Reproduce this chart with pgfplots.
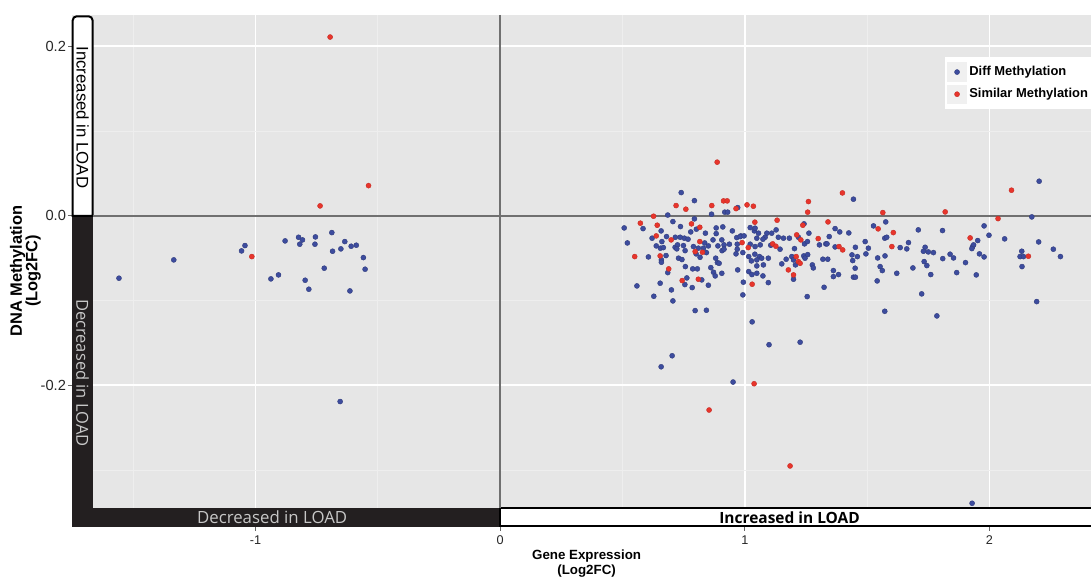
\documentclass[border=0pt]{standalone}
\usepackage{pgfplots}
\pgfplotsset{compat=1.18}
\usepackage{fontspec}
\setmainfont{Liberation Sans}
\newfontfamily\osans{Open Sans}
\definecolor{bgray}{HTML}{E6E6E6}
\definecolor{mgray}{HTML}{EEEEEE}
\definecolor{dblue}{HTML}{3D4C9E}
\definecolor{dred}{HTML}{E8352C}
\definecolor{stripblk}{HTML}{231F20}
\definecolor{zline}{HTML}{707070}
\begin{document}
\begin{tikzpicture}
\begin{axis}[
  scale only axis, width=764.25pt, height=384pt,
  xmin=-1.75, xmax=2.415, ymin=-0.367, ymax=0.237,
  clip=false,
  axis background/.style={fill=bgray},
  axis line style={draw=none},
  xtick={-1,0,1,2}, xticklabels={-1,0,1,2},
  ytick={-0.2,0,0.2}, yticklabels={-0.2,0.0,0.2},
  minor xtick={-1.5,-0.5,0.5,1.5}, minor ytick={-0.3,-0.1,0.1},
  grid=both,
  major grid style={white, line width=1.4pt},
  minor grid style={mgray, line width=0.8pt},
  tick align=outside, xtick pos=bottom, ytick pos=left,
  major tick length=3pt, minor tick length=0pt,
  tick style={black!60, line width=0.6pt},
  /pgf/number format/assume math mode=true,
  xticklabel style={font=\fontsize{9.5}{11}\selectfont, text=black!85},
  yticklabel style={font=\fontsize{11}{12}\selectfont, text=black!85, xshift=2pt},
  xlabel={Gene Expression\\(Log2FC)},
  ylabel={DNA Methylation\\(Log2FC)},
  every axis x label/.style={at={(axis description cs:0.505,-0.0435)}, anchor=north, align=center, inner sep=0pt, font=\bfseries\fontsize{10}{11.2}\selectfont},
  every axis y label/.style={at={(axis description cs:-0.0304,0.5)}, rotate=90, anchor=south, align=center, inner sep=0pt, font=\bfseries\fontsize{12.3}{11.5}\selectfont},
  legend style={at={(axis cs:1.819,0.1876)}, anchor=north west, fill=white, draw=none,
    font=\bfseries\fontsize{9.7}{11}\selectfont, row sep=2.2pt, inner xsep=1.5pt, inner ysep=4pt},
  legend cell align=left,
  legend image code/.code={\fill[black!6] (0pt,-7pt) rectangle (14pt,7pt);
     \draw[only marks,#1] plot coordinates {(7pt,0pt)};},
]
% strips
\fill[stripblk] (axis cs:-1.75,0) rectangle (axis cs:-1.663,-0.367);
\fill[stripblk] (axis cs:-1.75,-0.367) rectangle (axis cs:0,-0.3445);
\draw[fill=white, line width=1.5pt] (axis cs:-1.747,0) [rounded corners=3pt] -- (axis cs:-1.747,0.2355) -- (axis cs:-1.666,0.2355) [sharp corners] -- (axis cs:-1.666,0) -- cycle;
\draw[fill=white, line width=1.2pt] (axis cs:0,-0.3447) rectangle (axis cs:2.42,-0.3655);
\node[rotate=-90, font=\fontsize{12.6}{13}\selectfont] at (axis cs:-1.7065,0.1162) {Increased in LOAD};
\node[rotate=-90, text=black!22, font=\osans\fontsize{12.4}{13}\selectfont] at (axis cs:-1.7065,-0.1852) {Decreased in LOAD};
\node[text=black!22, font=\osans\fontsize{12.6}{13}\selectfont] at (axis cs:-0.932,-0.3557) {Decreased in LOAD};
\node[font=\osans\bfseries\fontsize{11.6}{12}\selectfont] at (axis cs:1.183,-0.3557) {Increased in LOAD};
% zero lines
\draw[zline, line width=1.5pt] (axis cs:-1.663,0) -- (axis cs:2.415,0);
\draw[zline, line width=1.5pt] (axis cs:0,0.237) -- (axis cs:0,-0.3445);

\addplot[only marks, mark=*, mark size=1.9pt, mark options={draw=dblue!80!black, fill=dblue, line width=0.3pt}] coordinates {
(-0.688,-0.0197)(-0.879,-0.0295)(-0.824,-0.0252)(-0.808,-0.0283)(-0.819,-0.0334)
(-0.755,-0.0248)(-0.757,-0.0334)(-0.635,-0.0303)(-0.651,-0.0389)(-0.685,-0.0417)
(-0.609,-0.0358)(-0.588,-0.0346)(-0.559,-0.0492)(-0.552,-0.0629)(-0.719,-0.0617)
(-0.797,-0.0759)(-0.782,-0.0865)(-0.614,-0.0885)(-0.937,-0.0743)(-0.906,-0.0696)
(-1.043,-0.0350)(-1.057,-0.0413)(-1.334,-0.0519)(-1.558,-0.0735)(-0.654,-0.219)
(0.740,0.0275)(0.794,0.018)(0.918,0.0044)(0.930,0.0044)(0.864,0.002)(0.971,0.0098)
(0.685,0.001)(0.794,-0.0035)(0.706,-0.0067)(0.507,-0.0142)(0.584,-0.015)(0.737,-0.0126)
(0.658,-0.0177)(0.779,-0.0189)(0.802,-0.0157)(0.839,-0.0204)(0.883,-0.0142)(0.910,-0.013)
(0.949,-0.0177)(0.883,-0.0209)(0.984,-0.0236)(1.022,-0.0138)(1.039,-0.0177)(0.621,-0.0263)
(0.680,-0.0244)(0.716,-0.0252)(0.736,-0.0252)(0.753,-0.0263)(0.768,-0.0275)(0.661,-0.0303)
(0.836,-0.0319)(0.870,-0.0283)(0.906,-0.0283)(0.967,-0.0256)(0.981,-0.0244)(0.997,-0.0236)
(0.638,-0.0354)(0.655,-0.0381)(0.667,-0.0374)(0.715,-0.037)(0.725,-0.0342)(0.749,-0.035)
(0.790,-0.0362)(0.810,-0.0381)(0.831,-0.0381)(0.851,-0.0354)(0.890,-0.0354)(0.915,-0.0342)
(0.937,-0.0334)(0.969,-0.0334)(1.022,-0.0334)(0.520,-0.0319)(0.606,-0.0484)(0.678,-0.0468)
(0.659,-0.0519)(0.659,-0.0547)(0.722,-0.0389)(0.756,-0.041)(0.729,-0.0499)(0.743,-0.0515)
(0.801,-0.0448)(0.817,-0.0488)(0.843,-0.0433)(0.881,-0.0499)(0.888,-0.0551)(0.895,-0.0559)
(0.907,-0.041)(0.915,-0.0393)(0.964,-0.0448)(0.969,-0.0393)(0.992,-0.0433)(1.016,-0.048)
(1.027,-0.0531)(1.041,-0.0452)(0.994,-0.0782)(0.992,-0.0932)(0.685,-0.0669)(0.757,-0.0598)
(0.787,-0.0625)(0.806,-0.0625)(0.861,-0.061)(0.872,-0.0665)(0.879,-0.0708)(0.906,-0.0677)
(0.971,-0.0637)(1.016,-0.0657)(1.029,-0.0692)(0.763,-0.0732)(0.824,-0.0755)(0.755,-0.081)
(0.785,-0.0846)(0.851,-0.0818)(0.654,-0.0794)(0.559,-0.0826)(0.700,-0.0873)(0.628,-0.0948)
(0.706,-0.1003)(0.797,-0.1117)(0.843,-0.1113)
(0.703,-0.165)(0.658,-0.178)(1.030,-0.125)(0.952,-0.196)(1.099,-0.152)(1.226,-0.149)(1.929,-0.339)
(1.444,0.0197)(1.576,-0.0071)(1.242,-0.0094)(1.369,-0.015)(1.425,-0.0201)(1.388,-0.0189)
(1.526,-0.0118)(1.572,-0.0263)(1.580,-0.0252)(1.709,-0.0165)(1.492,-0.0303)(1.505,-0.0381)
(1.669,-0.0315)(1.635,-0.0374)(1.662,-0.0389)(1.687,-0.0614)(1.621,-0.0677)(1.573,-0.0472)
(1.543,-0.0496)(1.495,-0.0448)(1.452,-0.037)(1.438,-0.046)(1.460,-0.048)(1.441,-0.0527)
(1.451,-0.0617)(1.444,-0.0723)(1.452,-0.0723)(1.553,-0.0598)(1.562,-0.0645)(1.541,-0.0767)
(1.572,-0.1125)(1.331,-0.033)(1.336,-0.033)(1.369,-0.0366)(1.345,-0.0244)(1.305,-0.0342)
(1.319,-0.0511)(1.339,-0.0511)(1.362,-0.0645)(1.383,-0.0692)(1.362,-0.0716)(1.324,-0.0842)
(1.255,-0.0952)(1.276,-0.0578)(1.280,-0.0614)(1.241,-0.0472)(1.257,-0.0457)(1.246,-0.0499)
(1.192,-0.048)(1.199,-0.0519)(1.207,-0.0578)(1.169,-0.0511)(1.199,-0.0747)(1.151,-0.0566)
(1.106,-0.0346)(1.144,-0.0393)(1.137,-0.0252)(1.158,-0.0263)(1.182,-0.0263)(1.110,-0.0204)
(1.128,-0.0165)(1.219,-0.0252)(1.244,-0.033)(1.256,-0.0303)(1.262,-0.0204)(1.203,-0.0386)
(1.090,-0.0204)(1.083,-0.0252)(1.074,-0.0275)(1.056,-0.0204)(1.049,-0.0263)(1.063,-0.0342)
(1.042,-0.0362)(1.042,-0.0145)(1.060,-0.048)(1.069,-0.0499)(1.049,-0.0519)(1.096,-0.0499)
(1.049,-0.059)(1.076,-0.0578)(1.049,-0.0677)(1.074,-0.0708)(1.096,-0.0787)
(2.203,0.0409)(2.173,-0.0012)(1.808,-0.0173)(1.978,-0.0118)(1.998,-0.0228)(1.952,-0.0291)
(2.062,-0.0271)(2.201,-0.0307)(2.261,-0.0393)(2.290,-0.048)(2.132,-0.0417)(2.125,-0.048)
(2.139,-0.048)(2.133,-0.0598)(2.193,-0.1011)(1.931,-0.0362)(1.935,-0.0342)(1.928,-0.0386)
(1.959,-0.0448)(1.978,-0.0484)(1.902,-0.0551)(1.839,-0.0452)(1.853,-0.0496)(1.809,-0.0504)
(1.946,-0.0696)(1.866,-0.0669)(1.760,-0.0692)(1.737,-0.037)(1.730,-0.0417)(1.750,-0.0425)
(1.771,-0.0433)(1.733,-0.0539)(1.744,-0.0586)(1.723,-0.092)(1.785,-0.118)
};
\addlegendentry{Diff Methylation}
\addplot[only marks, mark=*, mark size=1.9pt, mark options={draw=dred!85!black, fill=dred, line width=0.3pt}] coordinates {
(-0.538,0.0357)(-0.736,0.0118)(-1.015,-0.048)(-0.695,0.211)
(0.887,0.0634)(0.719,0.0122)(0.759,0.0079)(0.865,0.0122)(0.913,0.0177)(0.928,0.0177)
(0.964,0.0086)(1.009,0.013)(1.035,0.0114)(0.627,-0.0004)(0.573,-0.0086)(0.642,-0.011)
(0.782,-0.0094)(0.816,-0.0134)(1.041,-0.0074)(0.638,-0.0236)(0.699,-0.0283)(0.816,-0.0303)
(0.989,-0.0315)(1.014,-0.0374)(0.550,-0.048)(0.654,-0.0472)(0.797,-0.0421)(0.827,-0.0429)
(1.030,-0.0806)(0.689,-0.0625)(0.744,-0.0763)(0.810,-0.0747)
(1.038,-0.198)(0.854,-0.229)(1.185,-0.295)
(1.399,0.0271)(1.260,0.0169)(1.257,0.0044)(1.564,0.0039)(1.132,-0.0051)(1.237,-0.011)
(1.340,-0.0071)(1.545,-0.0153)(1.607,-0.0197)(1.601,-0.0362)(1.385,-0.0362)(1.400,-0.0401)
(1.300,-0.0268)(1.210,-0.048)(1.219,-0.0539)(1.226,-0.0559)(1.178,-0.0637)(1.199,-0.0696)
(1.114,-0.033)(1.127,-0.0358)(1.212,-0.0224)(1.229,-0.0283)
(2.090,0.0303)(1.819,0.0047)(2.035,-0.0032)(1.921,-0.026)(2.159,-0.0476)
};
\addlegendentry{Similar Methylation}
\end{axis}
\pgfresetboundingbox
\path[use as bounding box] ([xshift=-54pt,yshift=-39.75pt]current axis.south west) rectangle ([yshift=11.25pt]current axis.north east);
\end{tikzpicture}
\end{document}
